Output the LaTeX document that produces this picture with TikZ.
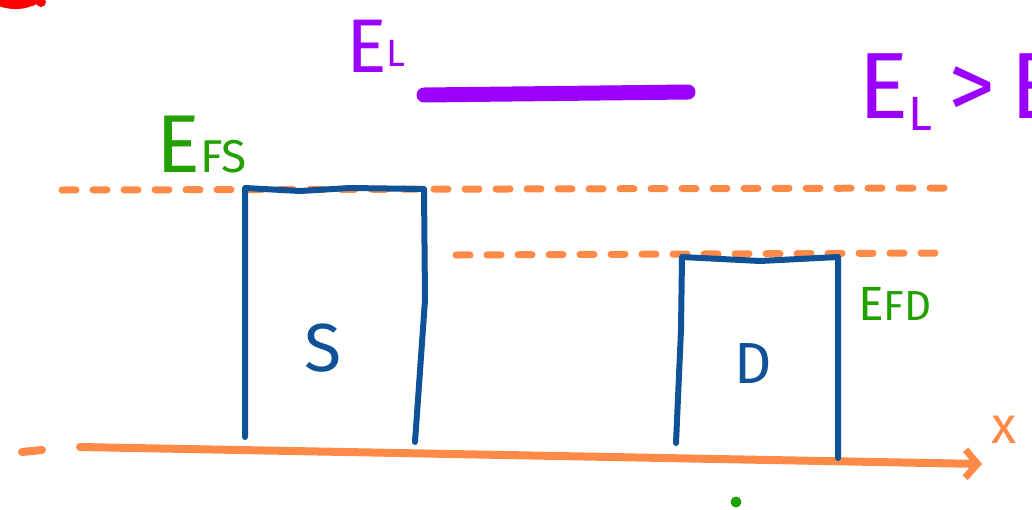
\documentclass[tikz,border=0pt]{standalone}
\usepackage{fontspec}
\setmainfont{Fira Sans}
\usetikzlibrary{arrows.meta}
\definecolor{vio}{RGB}{155,0,255}
\definecolor{grn}{RGB}{34,160,0}
\definecolor{org}{RGB}{255,138,72}
\definecolor{blu}{RGB}{16,82,152}
\definecolor{rd}{RGB}{255,0,0}
\tikzset{
  lvl/.style={org,line width=7pt,line cap=round,dash pattern=on 14pt off 17pt},
  wall/.style={blu,line width=6pt,line cap=round,line join=round},
  gtxt/.style={grn,inner sep=0pt,anchor=base west},
  vtxt/.style={vio,inner sep=0pt,anchor=base west}
}
\begin{document}
\begin{tikzpicture}[x=1pt,y=-1pt]
\useasboundingbox (0,0) rectangle (1032,509);
% red remnant
\draw[rd,line width=10pt,line cap=round] (2,2) to[bend right=20] (36,-1);
\fill[rd] (41,2) circle (5pt);
% E_L label and level
\node[vtxt] (el) at (346,72) {\fontsize{76}{76}\selectfont E\raisebox{6pt}{\fontsize{38}{38}\selectfont L}};
\coordinate (la) at (424,95);
\coordinate (lb) at (688,92);
\draw[vio,line width=15pt,line cap=round] (la) -- (lb);
% E_L > E_F
\node[vtxt] (cmp) at (858,118) {\fontsize{94}{94}\selectfont E\raisebox{-12pt}{\fontsize{48}{48}\selectfont L}\,>\,E};
% Fermi levels
\coordinate (s1) at (62,190);
\coordinate (s2) at (950,188);
\draw[lvl] (s1) -- (s2);
\coordinate (d1) at (456,255);
\coordinate (d2) at (945,253);
\draw[lvl] (d1) -- (d2);
\node[gtxt] (efs) at (156,172) {\fontsize{82}{82}\selectfont E\fontsize{46}{46}\selectfont FS};
\node[gtxt] (efd) at (858,320) {\fontsize{48}{48}\selectfont E\fontsize{42}{42}\selectfont FD};
% axis
\coordinate (a0) at (22,452);
\coordinate (a1) at (42,450);
\draw[org,line width=8pt,line cap=round] (a0) -- (a1);
\coordinate (x0) at (80,447);
\coordinate (x1) at (982,464);
\draw[org,line width=8pt,line cap=round,-{Straight Barb[length=12pt,width=28pt,line width=7pt]}] (x0) -- (x1);
\node[org,inner sep=0pt] (xl) at (1004,430) {\fontsize{52}{52}\selectfont x};
% S box
\coordinate (sa) at (245,437);
\coordinate (sb) at (245,188);
\coordinate (sc) at (424,189);
\coordinate (sd) at (415,442);
\draw[wall] (sa) -- (sb) -- (300,191) -- (350,188) -- (sc) -- (425,300) -- (sd);
\node[blu,inner sep=0pt] (s) at (323,348) {\fontsize{68}{68}\selectfont S};
% D box
\coordinate (da) at (676,443);
\coordinate (db) at (682,257);
\coordinate (dc) at (838,257);
\coordinate (dd) at (838,458);
\draw[wall] (da) -- (681,330) -- (db) -- (760,261) -- (dc) -- (dd);
\node[blu,inner sep=0pt] (d) at (753,364) {\fontsize{58}{58}\selectfont D};
% green dot
\fill[grn] (736,502) circle (5.5pt);
\end{tikzpicture}
\end{document}
